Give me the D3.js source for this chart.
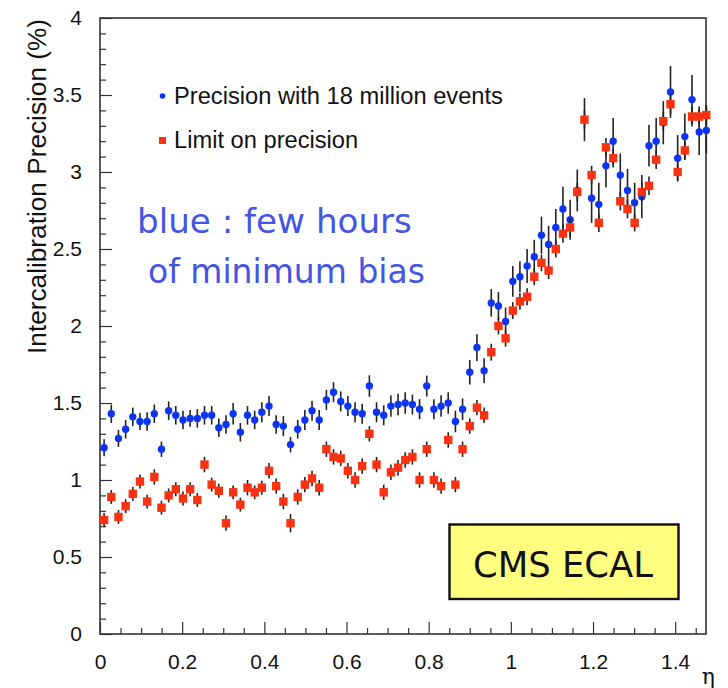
<!DOCTYPE html>
<html>
<head>
<meta charset="utf-8">
<script src="https://cdn.jsdelivr.net/npm/d3@7"></script>
<style>
  body { margin: 0; background: #ffffff; }
  svg { display: block; }
</style>
</head>
<body>
<svg id="chart" width="728" height="688"></svg>
<script>
// Pseudorapidity of each barrel crystal (85 crystals)
const etaCenters = [
  0.0100, 0.0275, 0.0449, 0.0624, 0.0798, 0.0973, 0.1147, 0.1322, 0.1496, 0.1671,
  0.1845, 0.2020, 0.2194, 0.2369, 0.2543, 0.2718, 0.2892, 0.3067, 0.3241, 0.3416,
  0.3590, 0.3765, 0.3939, 0.4114, 0.4288, 0.4463, 0.4637, 0.4812, 0.4986, 0.5161,
  0.5335, 0.5510, 0.5684, 0.5859, 0.6033, 0.6208, 0.6382, 0.6557, 0.6731, 0.6906,
  0.7080, 0.7255, 0.7429, 0.7604, 0.7778, 0.7953, 0.8127, 0.8302, 0.8476, 0.8651,
  0.8825, 0.9000, 0.9174, 0.9349, 0.9523, 0.9698, 0.9872, 1.0047, 1.0221, 1.0396,
  1.0570, 1.0745, 1.0919, 1.1094, 1.1268, 1.1443, 1.1617, 1.1792, 1.1966, 1.2141,
  1.2315, 1.2490, 1.2664, 1.2839, 1.3013, 1.3188, 1.3362, 1.3537, 1.3711, 1.3886,
  1.4060, 1.4235, 1.4409, 1.4584, 1.4758
];

// Precision (%) reached with 18 million events
const precision18M = [
  1.21, 1.43, 1.27, 1.33, 1.41, 1.38, 1.38, 1.43, 1.20, 1.45,
  1.42, 1.39, 1.40, 1.40, 1.42, 1.42, 1.34, 1.36, 1.43, 1.31,
  1.42, 1.39, 1.44, 1.48, 1.36, 1.35, 1.23, 1.33, 1.39, 1.45,
  1.39, 1.52, 1.57, 1.51, 1.48, 1.44, 1.43, 1.61, 1.44, 1.42,
  1.48, 1.49, 1.50, 1.49, 1.46, 1.61, 1.46, 1.48, 1.50, 1.38,
  1.46, 1.70, 1.86, 1.71, 2.15, 2.13, 2.03, 2.29, 2.32, 2.39,
  2.45, 2.59, 2.53, 2.64, 2.76, 2.69, 2.88, 3.34, 2.83, 2.79,
  3.04, 3.20, 2.98, 2.88, 2.80, 2.84, 3.17, 3.20, 3.32, 3.52,
  3.09, 3.23, 3.47, 3.26, 3.27
];
const precision18MErr = [
  0.055, 0.06, 0.055, 0.06, 0.06, 0.055, 0.06, 0.06, 0.05, 0.06,
  0.06, 0.06, 0.055, 0.06, 0.06, 0.06, 0.06, 0.06, 0.07, 0.06,
  0.06, 0.06, 0.065, 0.065, 0.06, 0.065, 0.05, 0.06, 0.065, 0.065,
  0.065, 0.065, 0.065, 0.065, 0.065, 0.065, 0.065, 0.07, 0.065, 0.065,
  0.07, 0.07, 0.07, 0.065, 0.065, 0.068, 0.065, 0.07, 0.07, 0.07,
  0.07, 0.08, 0.087, 0.08, 0.09, 0.09, 0.09, 0.10, 0.10, 0.11,
  0.11, 0.12, 0.12, 0.12, 0.145, 0.13, 0.135, 0.14, 0.16, 0.14,
  0.14, 0.15, 0.14, 0.14, 0.13, 0.14, 0.135, 0.15, 0.14, 0.168,
  0.15, 0.15, 0.16, 0.15, 0.15
];

// Limit on the achievable precision (%)
const precisionLimit = [
  0.74, 0.89, 0.76, 0.83, 0.91, 0.99, 0.86, 1.02, 0.82, 0.90,
  0.94, 0.88, 0.94, 0.87, 1.10, 0.97, 0.93, 0.72, 0.92, 0.84,
  0.95, 0.92, 0.95, 1.06, 0.96, 0.86, 0.72, 0.89, 0.97, 1.01,
  0.95, 1.20, 1.15, 1.14, 1.06, 1.00, 1.09, 1.30, 1.10, 0.92,
  1.05, 1.08, 1.13, 1.15, 1.00, 1.20, 1.00, 0.96, 1.26, 0.97,
  1.20, 1.35, 1.47, 1.42, 1.83, 2.00, 1.92, 2.10, 2.16, 2.19,
  2.32, 2.41, 2.36, 2.50, 2.60, 2.64, 2.87, 3.34, 2.98, 2.67,
  3.16, 3.09, 2.81, 2.76, 2.67, 2.87, 2.91, 3.08, 3.33, 3.44,
  3.00, 3.14, 3.36, 3.36, 3.37
];
const precisionLimitErr = [
  0.045, 0.045, 0.045, 0.045, 0.045, 0.045, 0.045, 0.05, 0.045, 0.045,
  0.045, 0.045, 0.045, 0.045, 0.05, 0.045, 0.045, 0.05, 0.045, 0.045,
  0.05, 0.045, 0.045, 0.05, 0.05, 0.05, 0.06, 0.05, 0.05, 0.05,
  0.05, 0.05, 0.05, 0.05, 0.05, 0.05, 0.05, 0.05, 0.05, 0.05,
  0.05, 0.05, 0.05, 0.05, 0.05, 0.05, 0.05, 0.05, 0.05, 0.05,
  0.05, 0.05, 0.05, 0.05, 0.055, 0.055, 0.055, 0.055, 0.055, 0.055,
  0.055, 0.055, 0.055, 0.055, 0.06, 0.06, 0.06, 0.06, 0.06, 0.06,
  0.06, 0.06, 0.06, 0.06, 0.056, 0.06, 0.06, 0.06, 0.06, 0.065,
  0.06, 0.06, 0.065, 0.065, 0.065
];

const xTicks = [0, 0.2, 0.4, 0.6, 0.8, 1.0, 1.2, 1.4];
const xTickLabels = ["0", "0.2", "0.4", "0.6", "0.8", "1", "1.2", "1.4"];
const yTicks = [0, 0.5, 1, 1.5, 2, 2.5, 3, 3.5, 4];
const yTickLabels = ["0", "0.5", "1", "1.5", "2", "2.5", "3", "3.5", "4"];
const legendLabels = ["Precision with 18 million events", "Limit on precision"];
const noteLines = ["blue : few hours", "of minimum bias"];
const boxLabel = "CMS ECAL";
const yTitle = "Intercalibration Precision (%)";
const xTitle = "\u03B7";

const colBlue = "#0b34f4";
const colRed = "#f93312";
const sansFont = "'Liberation Sans', Arial, Helvetica, sans-serif";
const noteFont = "'DejaVu Sans', 'Noto Sans', sans-serif";

const svg = d3.select("#chart");
svg.append("rect").attr("width", 728).attr("height", 688).attr("fill", "#ffffff");

const frame = { left: 100, right: 706, top: 18, bottom: 634 };
const x = d3.scaleLinear().domain([0, 1.475]).range([frame.left, frame.right]);
const y = d3.scaleLinear().domain([0, 4]).range([frame.bottom, frame.top]);

// fit a text element's font size so that it spans a given width
function fitWidth(sel, target) {
  const w = sel.node().getComputedTextLength();
  const fs = parseFloat(sel.attr("font-size"));
  sel.attr("font-size", (fs * target / w).toFixed(2));
}

// ---- axes (ticks pointing into the frame) ----
const xMinor = d3.range(0, 1.4751, 0.05).filter(v => !xTicks.some(t => Math.abs(t - v) < 1e-6));
const yMinor = d3.range(0, 4.0001, 0.1).filter(v => !yTicks.some(t => Math.abs(t - v) < 1e-6));

const gx = svg.append("g").attr("transform", `translate(0,${frame.bottom})`);
gx.call(d3.axisBottom(x).tickValues(xMinor).tickSize(-6).tickFormat(""));
gx.call(g => g.selectAll(".tick").attr("class", "minor"));
gx.call(d3.axisBottom(x).tickValues(xTicks).tickSize(-12).tickPadding(20)
  .tickFormat((d, i) => xTickLabels[i]));
gx.selectAll(".domain").remove();

const gy = svg.append("g").attr("transform", `translate(${frame.left},0)`);
gy.call(d3.axisLeft(y).tickValues(yMinor).tickSize(-6).tickFormat(""));
gy.call(g => g.selectAll(".tick").attr("class", "minor"));
gy.call(d3.axisLeft(y).tickValues(yTicks).tickSize(-12).tickPadding(18)
  .tickFormat((d, i) => yTickLabels[i]));
gy.selectAll(".domain").remove();

svg.selectAll(".tick line, .minor line").attr("stroke", "#333").attr("stroke-width", 1.2);
svg.selectAll(".tick text")
  .attr("font-family", sansFont).attr("font-size", 21).attr("fill", "#111");

// frame
svg.append("rect")
  .attr("x", frame.left).attr("y", frame.top)
  .attr("width", frame.right - frame.left).attr("height", frame.bottom - frame.top)
  .attr("fill", "none").attr("stroke", "#333").attr("stroke-width", 1.6);

// axis titles
const yt = svg.append("text")
  .attr("transform", `translate(46,${frame.top + 1}) rotate(-90)`)
  .attr("text-anchor", "end")
  .attr("font-family", sansFont).attr("font-size", 24).attr("fill", "#111")
  .text(yTitle);
fitWidth(yt, 335);

svg.append("text")
  .attr("x", 715).attr("y", 684)
  .attr("text-anchor", "end")
  .attr("font-family", "'DejaVu Serif', 'Liberation Serif', serif")
  .attr("font-size", 22).attr("fill", "#111")
  .text(xTitle);

// ---- data ----
function drawSeries(values, errors, color, shape) {
  const pts = etaCenters.map((e, i) => ({ eta: e, v: values[i], err: errors[i] }));
  const g = svg.append("g");
  g.selectAll("line.err").data(pts).join("line")
    .attr("class", "err")
    .attr("x1", d => x(d.eta)).attr("x2", d => x(d.eta))
    .attr("y1", d => y(d.v - d.err)).attr("y2", d => y(d.v + d.err))
    .attr("stroke", "#222").attr("stroke-width", 1.6);
  if (shape === "circle") {
    g.selectAll("circle").data(pts).join("circle")
      .attr("cx", d => x(d.eta)).attr("cy", d => y(d.v))
      .attr("r", 3.7).attr("fill", color);
  } else {
    g.selectAll("rect").data(pts).join("rect")
      .attr("x", d => x(d.eta) - 4.2).attr("y", d => y(d.v) - 4.2)
      .attr("width", 8.4).attr("height", 8.4).attr("fill", color);
  }
}
drawSeries(precision18M, precision18MErr, colBlue, "circle");
drawSeries(precisionLimit, precisionLimitErr, colRed, "square");

// ---- legend ----
svg.append("circle").attr("cx", 162.5).attr("cy", 96).attr("r", 2.8).attr("fill", colBlue);
svg.append("rect").attr("x", 159).attr("y", 137).attr("width", 7).attr("height", 7).attr("fill", colRed);
const l1 = svg.append("text").attr("x", 174).attr("y", 104)
  .attr("font-family", sansFont).attr("font-size", 23).attr("fill", "#111")
  .text(legendLabels[0]);
fitWidth(l1, 329);
svg.append("text").attr("x", 174).attr("y", 148)
  .attr("font-family", sansFont).attr("font-size", l1.attr("font-size")).attr("fill", "#111")
  .text(legendLabels[1]);

// ---- annotation ----
const n1 = svg.append("text").attr("x", 137).attr("y", 233)
  .attr("font-family", noteFont).attr("font-size", 30).attr("fill", "#4455e4")
  .text(noteLines[0]);
fitWidth(n1, 275);
const n2 = svg.append("text").attr("x", 148).attr("y", 283)
  .attr("font-family", noteFont).attr("font-size", 30).attr("fill", "#4455e4")
  .text(noteLines[1]);
fitWidth(n2, 277);

// ---- experiment label box ----
svg.append("rect")
  .attr("x", 449.5).attr("y", 524.5).attr("width", 229).attr("height", 74.5)
  .attr("fill", "#ffff80").attr("stroke", "#111").attr("stroke-width", 2.4);
const bt = svg.append("text").attr("x", 473).attr("y", 577)
  .attr("font-family", noteFont).attr("font-size", 34).attr("fill", "#111")
  .text(boxLabel);
fitWidth(bt, 180);
</script>
</body>
</html>
